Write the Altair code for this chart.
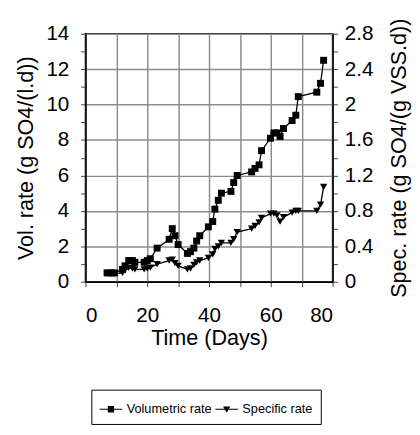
import altair as alt
import pandas as pd

days = [7.0, 8.4, 9.4, 12.0, 12.8, 14.0, 15.2, 16.0, 19.0, 20.0, 21.0, 23.2, 27.1, 28.1, 29.0, 30.0,
        33.0, 34.0, 35.1, 36.0, 37.0, 39.8, 41.2, 41.9, 43.0, 44.0, 47.1, 48.0, 49.1, 53.8, 54.9,
        56.2, 57.0, 59.9, 61.0, 62.0, 63.0, 64.1, 66.9, 68.1, 68.9, 74.9, 76.1, 77.1]
vol_rate = [0.5, 0.5, 0.5, 0.7, 0.9, 1.2, 1.2, 1.1, 1.1, 1.2, 1.3, 1.9, 2.4, 3.0, 2.6, 2.1,
            1.6, 1.7, 1.9, 2.3, 2.6, 3.1, 3.4, 4.1, 4.6, 5.0, 5.1, 5.6, 6.0, 6.2, 6.4,
            6.6, 7.4, 8.1, 8.4, 8.4, 8.2, 8.65, 9.1, 9.4, 10.45, 10.7, 11.2, 12.5]
spec_rate = [0.1, 0.1, 0.09, 0.1, 0.13, 0.16, 0.15, 0.14, 0.14, 0.15, 0.16, 0.2, 0.24, 0.25, 0.21, 0.18,
             0.14, 0.15, 0.19, 0.22, 0.24, 0.27, 0.31, 0.37, 0.4, 0.44, 0.44, 0.48, 0.56, 0.6, 0.63,
             0.67, 0.72, 0.77, 0.77, 0.75, 0.68, 0.73, 0.78, 0.8, 0.8, 0.8, 0.87, 1.07]
series_names = ["Volumetric rate", "Specific rate"]

x_ticks = list(range(0, 81, 10))
yl_ticks = list(range(0, 15, 1))
yr_ticks = [round(i * 0.2, 1) for i in range(0, 15)]

vol_df = pd.DataFrame({"day": days, "rate": vol_rate})
spec_df = pd.DataFrame({"day": days, "rate": spec_rate})
leg_df = pd.DataFrame({"series": series_names})

FONT = "Liberation Sans"
GRID = "#8c8c8c"

x_enc = alt.X("day:Q", scale=alt.Scale(domain=[0, 80], nice=False),
              axis=alt.Axis(values=x_ticks, title="Time (Days)",
                            labelExpr="datum.value % 20 == 0 ? datum.label : ''",
                            grid=True, gridColor=GRID, gridWidth=1.5,
                            tickSize=5, labelPadding=18, titlePadding=3))

y_left = alt.Y("rate:Q", scale=alt.Scale(domain=[0, 14], nice=False),
               axis=alt.Axis(values=yl_ticks, title="Vol. rate (g SO4/(l.d))",
                             labelExpr="datum.value % 2 == 0 ? datum.label : ''",
                             grid=True,
                             gridOpacity={"condition": {"test": "datum.value % 2 == 1", "value": 0}, "value": 1},
                             gridColor=GRID, gridWidth=1.5,
                             tickSize=5, labelPadding=12, titlePadding=9))

y_right = alt.Y("rate:Q", scale=alt.Scale(domain=[0, 2.8], nice=False),
                axis=alt.Axis(values=yr_ticks, orient="right", title="Spec. rate (g SO4/(g VSS.d))",
                              format=".1~f",
                              labelExpr="round(datum.value * 10) % 4 == 0 ? datum.label : ''",
                              grid=False, tickSize=5, labelPadding=7,
                              titleAngle=270, titleBaseline="top", titlePadding=16))

vol_line = alt.Chart(vol_df).mark_line(color="black", strokeWidth=1.3).encode(x=x_enc, y=y_left)
vol_pts = alt.Chart(vol_df).mark_point(shape="square", filled=True, color="black", size=50, opacity=1).encode(x=x_enc, y=y_left)
vol = alt.layer(vol_line, vol_pts)

spec_line = alt.Chart(spec_df).mark_line(color="black", strokeWidth=1.3).encode(x=x_enc, y=y_right)
spec_pts = alt.Chart(spec_df).mark_point(shape="triangle-down", filled=True, color="black", size=55, opacity=1).encode(x=x_enc, y=y_right)
spec = alt.layer(spec_line, spec_pts)

sq_path = "M-1,-0.05H1V0.05H-1ZM-0.28,-0.28H0.28V0.28H-0.28Z"
tri_path = "M-1,-0.05H1V0.05H-1ZM-0.32,-0.25H0.32L0,0.32Z"

legend_layer = alt.Chart(leg_df).mark_point(filled=True, fill="black", stroke="black", strokeWidth=1, opacity=0).encode(
    shape=alt.Shape("series:N",
                    scale=alt.Scale(domain=series_names, range=[sq_path, tri_path]),
                    legend=alt.Legend(title=None, orient="none", direction="horizontal",
                                      legendX=6, legendY=363,
                                      strokeColor="black", padding=8,
                                      columns=2, gridAlign="all",
                                      symbolSize=529, symbolOpacity=1,
                                      symbolFillColor="black", symbolStrokeColor="black",
                                      symbolStrokeWidth=0.5,
                                      labelFont=FONT, labelFontSize=13, labelColor="black",
                                      labelOffset=4, columnPadding=2))
)

chart = alt.layer(vol, spec, legend_layer).resolve_scale(y="independent").properties(
    width=252, height=253,
    background="white",
    autosize=alt.AutoSizeParams(type="none"),
    padding={"left": 79, "top": 22, "right": 81, "bottom": 150},
).configure_view(stroke="black", strokeWidth=1.5).configure_axis(
    labelFont=FONT, titleFont=FONT, labelFontSize=21, titleFontSize=22,
    labelColor="black", titleColor="black", titleFontWeight="normal",
    domainColor="black", domainWidth=1.5, tickColor="#444", tickWidth=1,
)

chart.save("out.html", embed_options={"renderer": "svg", "actions": False})
